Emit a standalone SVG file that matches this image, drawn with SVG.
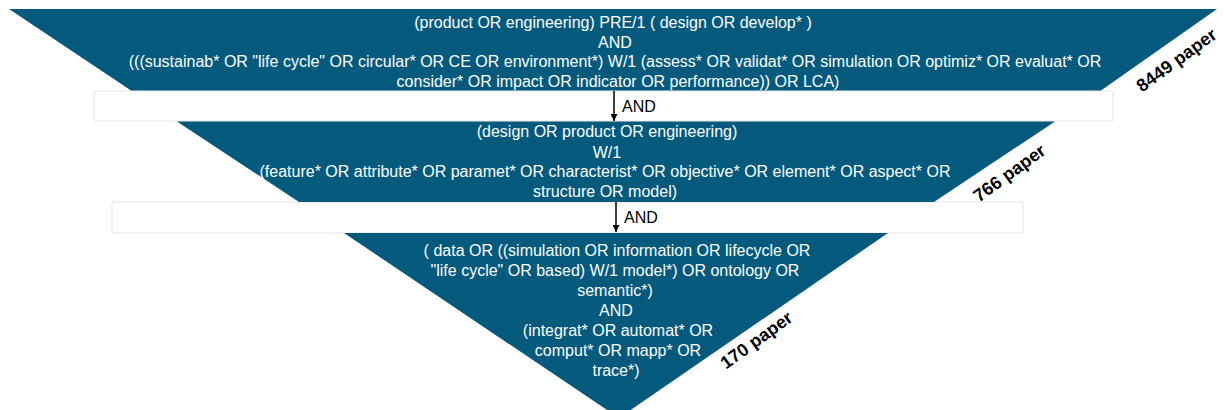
<svg xmlns="http://www.w3.org/2000/svg" width="1224" height="410" viewBox="0 0 1224 410">
<defs>
<style>
.band{fill:#045a7d;}
.gap{fill:#ffffff;stroke:#dcdcdc;stroke-width:0.8;}
.t{font-family:"Liberation Sans",Arial,sans-serif;font-size:16px;fill:#ffffff;text-anchor:middle;}
.and{font-family:"Liberation Sans",Arial,sans-serif;font-size:16px;fill:#000000;}
.cnt{font-family:"Liberation Sans",Arial,sans-serif;font-size:18px;font-weight:bold;fill:#000000;text-anchor:middle;}
.arr{stroke:#000000;stroke-width:1.5;fill:none;}
</style>
<marker id="ah" viewBox="0 0 10 10" refX="10" refY="5" markerWidth="7" markerHeight="7" markerUnits="userSpaceOnUse" orient="auto">
<path d="M0,0 L10,5 L0,10 Z" fill="#000000"/>
</marker>
</defs>
<rect width="1224" height="410" fill="#ffffff"/>
<g id="gap1"><rect class="gap" x="94" y="91" width="1019" height="30" rx="2"/></g>
<g id="gap2"><rect class="gap" x="112" y="202" width="911" height="31" rx="1"/></g>
<g id="stage1">
<polygon class="band" points="9,9 1217,9 1101,90.5 131,90.5"/>
<text class="t" x="613" y="28">(product OR engineering) PRE/1 ( design OR develop* )</text>
<text class="t" x="615" y="47.5">AND</text>
<text class="t" x="615" y="67">(((sustainab* OR "life cycle" OR circular* OR CE OR environment*) W/1 (assess* OR validat* OR simulation OR optimiz* OR evaluat* OR</text>
<text class="t" x="618" y="86.5">consider* OR impact OR indicator OR performance)) OR LCA)</text>
<text class="cnt" transform="translate(1180,65) rotate(-36)">8449 paper</text>
</g>
<g id="stage2">
<polygon class="band" points="177,121.5 1055,121.5 934,202 299,202"/>
<text class="t" x="607" y="137">(design OR product OR engineering)</text>
<text class="t" x="607" y="157.5">W/1</text>
<text class="t" x="605" y="177">(feature* OR attribute* OR paramet* OR characterist* OR objective* OR element* OR aspect* OR</text>
<text class="t" x="605" y="197">structure OR model)</text>
<text class="cnt" transform="translate(1013,178) rotate(-36)">766 paper</text>
</g>
<g id="stage3">
<polygon class="band" points="344,233 888,233 619,418"/>
<text class="t" x="617" y="255.5">( data OR ((simulation OR information OR lifecycle OR</text>
<text class="t" x="615" y="275.5">"life cycle" OR based) W/1 model*) OR ontology OR</text>
<text class="t" x="615" y="295.5">semantic*)</text>
<text class="t" x="616" y="315.5">AND</text>
<text class="t" x="618" y="335.5">(integrat* OR automat* OR</text>
<text class="t" x="618" y="355.5">comput* OR mapp* OR</text>
<text class="t" x="616" y="375.5">trace*)</text>
<text class="cnt" transform="translate(760,345) rotate(-36)">170 paper</text>
</g>
<g id="connectors">
<line class="arr" x1="614" y1="91" x2="614" y2="121" marker-end="url(#ah)"/>
<text class="and" x="622" y="112">AND</text>
<line class="arr" x1="616" y1="202" x2="616" y2="232" marker-end="url(#ah)"/>
<text class="and" x="624" y="223">AND</text>
</g>
</svg>
